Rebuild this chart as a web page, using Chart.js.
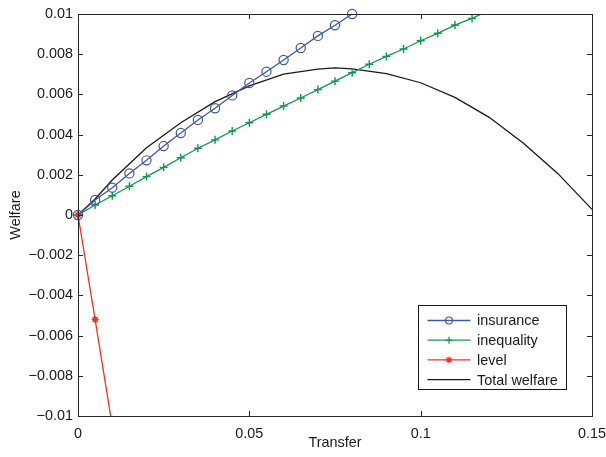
<!DOCTYPE html>
<html>
<head>
<meta charset="utf-8">
<script src="https://cdn.jsdelivr.net/npm/chart.js@4.4.0/dist/chart.umd.min.js"></script>
<style>
  html, body { margin: 0; padding: 0; background: #fff; }
  canvas { display: block; }
</style>
</head>
<body>
<canvas id="welfareChart" width="606" height="457"></canvas>
<script>
// values
const insuranceX = [0, 0.005, 0.01, 0.015, 0.02, 0.025, 0.03, 0.035, 0.04, 0.045, 0.05, 0.055, 0.06, 0.065, 0.07, 0.075, 0.08];
const insuranceY = [0, 0.00075, 0.00136, 0.00207, 0.00272, 0.00343, 0.00408, 0.00473, 0.00531, 0.00595, 0.00657, 0.00713, 0.00771, 0.00831, 0.00891, 0.00944, 0.01];

const inequalityX = [0, 0.005, 0.01, 0.015, 0.02, 0.025, 0.03, 0.035, 0.04, 0.045, 0.05, 0.055, 0.06, 0.065, 0.07, 0.075, 0.08, 0.085, 0.09, 0.095, 0.1, 0.105, 0.11, 0.115, 0.12];
const inequalityY = [0, 0.0005, 0.00096, 0.00143, 0.00191, 0.00237, 0.00285, 0.00332, 0.00374, 0.00418, 0.00459, 0.00501, 0.00542, 0.00582, 0.00624, 0.00666, 0.00708, 0.0075, 0.00789, 0.00826, 0.00867, 0.00904, 0.00945, 0.00978, 0.01018];

const levelX = [0, 0.005, 0.01];
const levelY = [0, -0.0052, -0.0105];

const totalX = [0, 0.005, 0.01, 0.02, 0.03, 0.04, 0.05, 0.06, 0.07, 0.075, 0.08, 0.09, 0.1, 0.11, 0.12, 0.13, 0.14, 0.15];
const totalY = [0, 0.0008, 0.00174, 0.00335, 0.00459, 0.00564, 0.00642, 0.00701, 0.00726, 0.00732, 0.00727, 0.00703, 0.00658, 0.00585, 0.00486, 0.00357, 0.00207, 0.00028];

const xTicks = [0, 0.05, 0.1, 0.15];
const xTickLabels = ['0', '0.05', '0.1', '0.15'];
const yTicks = [-0.01, -0.008, -0.006, -0.004, -0.002, 0, 0.002, 0.004, 0.006, 0.008, 0.01];
const yTickLabels = ['\u22120.01', '\u22120.008', '\u22120.006', '\u22120.004', '\u22120.002', '0', '0.002', '0.004', '0.006', '0.008', '0.01'];

const FONT = '"Liberation Sans", Arial, Helvetica, sans-serif';
const FONT_SIZE = 14.4;
const AXIS_COLOR = '#262626';
const TEXT_COLOR = '#1a1a1a';

function toPoints(xs, ys) {
    return xs.map(function (x, i) { return {x: x, y: ys[i]}; });
}

function drawMarker(ctx, style, x, y, r, color) {
    ctx.save();
    ctx.strokeStyle = color;
    ctx.fillStyle = color;
    ctx.lineWidth = 1.2;
    ctx.beginPath();
    if (style === 'circle') {
        ctx.arc(x, y, r, 0, Math.PI * 2);
        ctx.stroke();
    } else if (style === 'cross') {
        ctx.moveTo(x - r, y); ctx.lineTo(x + r, y);
        ctx.moveTo(x, y - r); ctx.lineTo(x, y + r);
        ctx.stroke();
    } else if (style === 'star') {
        for (let k = 0; k < 4; k++) {
            const a = k * Math.PI / 4;
            ctx.moveTo(x - r * Math.cos(a), y - r * Math.sin(a));
            ctx.lineTo(x + r * Math.cos(a), y + r * Math.sin(a));
        }
        ctx.stroke();
    }
    ctx.restore();
}

// box, inward ticks and the legend inside the axes
const matlabAxes = {
    id: 'matlabAxes',
    afterDraw: function (chart) {
        const ctx = chart.ctx;
        const a = chart.chartArea;
        const xs = chart.scales.x;
        const ys = chart.scales.y;
        const tl = 5;

        ctx.save();
        ctx.strokeStyle = AXIS_COLOR;
        ctx.lineWidth = 1;
        ctx.strokeRect(a.left + 0.5, a.top + 0.5, a.right - a.left, a.bottom - a.top);

        ctx.beginPath();
        xTicks.forEach(function (v) {
            const px = Math.round(xs.getPixelForValue(v)) + 0.5;
            ctx.moveTo(px, a.bottom); ctx.lineTo(px, a.bottom - tl);
            ctx.moveTo(px, a.top); ctx.lineTo(px, a.top + tl);
        });
        yTicks.forEach(function (v) {
            const py = Math.round(ys.getPixelForValue(v)) + 0.5;
            ctx.moveTo(a.left, py); ctx.lineTo(a.left + tl, py);
            ctx.moveTo(a.right, py); ctx.lineTo(a.right - tl, py);
        });
        ctx.stroke();

        // legend
        const boxW = 148, boxH = 84;
        const bx = Math.round(a.right - 26 - boxW) + 0.5;
        const by = Math.round(a.bottom - 27 - boxH) + 0.5;
        ctx.fillStyle = '#fff';
        ctx.fillRect(bx, by, boxW, boxH);
        ctx.strokeStyle = '#1a1a1a';
        ctx.strokeRect(bx, by, boxW, boxH);

        ctx.font = FONT_SIZE + 'px ' + FONT;
        ctx.textBaseline = 'middle';
        ctx.textAlign = 'left';
        chart.data.datasets.forEach(function (ds, i) {
            const rowY = by + 15 + i * 19.7;
            ctx.strokeStyle = ds.borderColor;
            ctx.lineWidth = 1.3;
            ctx.beginPath();
            ctx.moveTo(bx + 9, rowY);
            ctx.lineTo(bx + 52, rowY);
            ctx.stroke();
            if (ds.legendMarker) {
                drawMarker(ctx, ds.legendMarker, bx + 30.5, rowY, 3.5, ds.borderColor);
            }
            ctx.fillStyle = TEXT_COLOR;
            ctx.fillText(ds.label, bx + 58.5, rowY + 1);
        });
        ctx.restore();
    }
};

const ctx = document.getElementById('welfareChart').getContext('2d');
const myChart = new Chart(ctx, {
    type: 'scatter',
    data: {
        datasets: [{
            label: 'insurance',
            data: toPoints(insuranceX, insuranceY),
            showLine: true,
            borderColor: '#3d58a6',
            backgroundColor: 'rgba(0,0,0,0)',
            borderWidth: 1.3,
            pointStyle: 'circle',
            pointRadius: 4.6,
            pointBorderWidth: 1.2,
            pointBorderColor: '#3d58a6',
            pointBackgroundColor: 'rgba(0,0,0,0)',
            legendMarker: 'circle',
            clip: {left: 10, top: 7, right: 0, bottom: 0},
            order: 2
        }, {
            label: 'inequality',
            data: toPoints(inequalityX, inequalityY),
            showLine: true,
            borderColor: '#12984a',
            backgroundColor: '#12984a',
            borderWidth: 1.3,
            pointStyle: 'cross',
            pointRadius: 4,
            pointBorderWidth: 1.4,
            pointBorderColor: '#12984a',
            legendMarker: 'cross',
            clip: {left: 10, top: 0, right: 0, bottom: 0},
            order: 3
        }, {
            label: 'level',
            data: toPoints(levelX, levelY),
            showLine: true,
            borderColor: '#ee3326',
            backgroundColor: '#ee3326',
            borderWidth: 1.3,
            pointStyle: 'star',
            pointRadius: 3.6,
            pointBorderWidth: 1.4,
            pointBorderColor: '#ee3326',
            legendMarker: 'star',
            clip: {left: 10, top: 0, right: 0, bottom: 0},
            order: 1
        }, {
            label: 'Total welfare',
            data: toPoints(totalX, totalY),
            showLine: true,
            borderColor: '#1a1a1a',
            backgroundColor: '#1a1a1a',
            borderWidth: 1.3,
            pointRadius: 0,
            clip: 0,
            order: 4
        }]
    },
    options: {
        responsive: false,
        animation: false,
        events: [],
        layout: {
            padding: {left: 0, right: 14, top: 14, bottom: 0}
        },
        plugins: {
            legend: {display: false},
            tooltip: {enabled: false}
        },
        scales: {
            x: {
                type: 'linear',
                min: 0,
                max: 0.15,
                afterBuildTicks: function (scale) {
                    scale.ticks = xTicks.map(function (v) { return {value: v}; });
                },
                afterFit: function (scale) {
                    scale.height = 41;
                    scale.paddingLeft = 0;
                    scale.paddingRight = 0;
                },
                ticks: {
                    autoSkip: false,
                    maxRotation: 0,
                    padding: 9,
                    color: TEXT_COLOR,
                    font: {family: FONT, size: FONT_SIZE},
                    callback: function (v, i) { return xTickLabels[i]; }
                },
                grid: {display: false, drawTicks: false},
                border: {display: false},
                title: {
                    display: true,
                    text: 'Transfer',
                    color: TEXT_COLOR,
                    font: {family: FONT, size: FONT_SIZE},
                    padding: {top: 0, bottom: 5}
                }
            },
            y: {
                type: 'linear',
                min: -0.01,
                max: 0.01,
                afterBuildTicks: function (scale) {
                    scale.ticks = yTicks.map(function (v) { return {value: v}; });
                },
                afterFit: function (scale) {
                    scale.width = 78;
                    scale.paddingTop = 0;
                    scale.paddingBottom = 0;
                },
                ticks: {
                    autoSkip: false,
                    padding: 5,
                    color: TEXT_COLOR,
                    font: {family: FONT, size: FONT_SIZE},
                    callback: function (v, i) { return yTickLabels[i]; }
                },
                grid: {display: false, drawTicks: false},
                border: {display: false},
                title: {
                    display: true,
                    text: 'Welfare',
                    color: TEXT_COLOR,
                    font: {family: FONT, size: FONT_SIZE},
                    padding: {top: 7, bottom: 0}
                }
            }
        }
    },
    plugins: [matlabAxes]
});
</script>
</body>
</html>
